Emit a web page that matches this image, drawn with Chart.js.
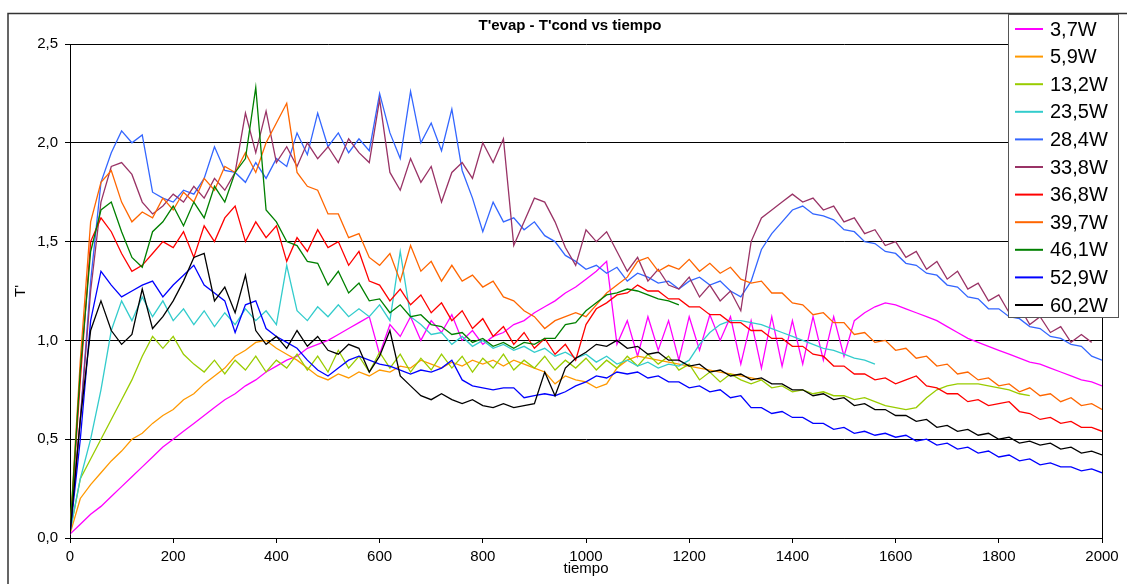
<!DOCTYPE html>
<html lang="es">
<head>
  <meta charset="UTF-8">
  <title>T'evap - T'cond vs tiempo</title>
  <script src="https://cdn.jsdelivr.net/npm/chart.js"></script>
  <style>
    html, body { margin: 0; padding: 0; background: #fff; }
    #wrap { width: 1127px; height: 584px; }
  </style>
</head>
<body>
  <div id="wrap"><canvas id="grafico" width="1127" height="584"></canvas></div>

  <script>
    // tiempo (eje x), un valor cada 20
    const tiempo = [
      0, 20, 40, 60, 80, 100, 120, 140, 160, 180,
      200, 220, 240, 260, 280, 300, 320, 340, 360, 380,
      400, 420, 440, 460, 480, 500, 520, 540, 560, 580,
      600, 620, 640, 660, 680, 700, 720, 740, 760, 780,
      800, 820, 840, 860, 880, 900, 920, 940, 960, 980,
      1000, 1020, 1040, 1060, 1080, 1100, 1120, 1140, 1160, 1180,
      1200, 1220, 1240, 1260, 1280, 1300, 1320, 1340, 1360, 1380,
      1400, 1420, 1440, 1460, 1480, 1500, 1520, 1540, 1560, 1580,
      1600, 1620, 1640, 1660, 1680, 1700, 1720, 1740, 1760, 1780,
      1800, 1820, 1840, 1860, 1880, 1900, 1920, 1940, 1960, 1980,
      2000
    ];

    const potencias = ['3,7W', '5,9W', '13,2W', '23,5W', '28,4W', '33,8W', '36,8W', '39,7W', '46,1W', '52,9W', '60,2W'];
    const colores = ['#FF00FF', '#FF9900', '#99CC00', '#33CCCC', '#3366FF', '#993366', '#FF0000', '#FF6600', '#008000', '#0000FF', '#000000'];

    const w3_7 = [
      0.02, 0.07, 0.12, 0.16, 0.21, 0.26, 0.31, 0.36, 0.41, 0.46,
      0.50, 0.54, 0.58, 0.62, 0.66, 0.70, 0.73, 0.77, 0.80, 0.84,
      0.87, 0.90, 0.92, 0.96, 0.98, 1.00, 1.03, 1.06, 1.09, 1.12,
      0.93, 1.08, 1.02, 1.12, 1.00, 1.10, 1.04, 1.13, 1.00, 1.05,
      0.98, 1.02, 1.04, 1.08, 1.10, 1.14, 1.17, 1.20, 1.24, 1.27,
      1.31, 1.35, 1.40, 0.98, 1.10, 0.92, 1.12, 0.95, 1.10, 0.90,
      1.12, 0.95, 1.13, 1.00, 1.12, 0.88, 1.10, 0.86, 1.12, 0.87,
      1.10, 0.88, 1.12, 0.90, 1.12, 0.92, 1.10, 1.14, 1.17, 1.19,
      1.18, 1.16, 1.14, 1.12, 1.10, 1.07, 1.04, 1.01, 0.99, 0.97,
      0.95, 0.93, 0.91, 0.89, 0.88, 0.86, 0.84, 0.82, 0.80, 0.79,
      0.77
    ];
    const w5_9 = [
      0.02, 0.20, 0.27, 0.33, 0.39, 0.44, 0.50, 0.53, 0.58, 0.62,
      0.65, 0.70, 0.73, 0.78, 0.82, 0.86, 0.92, 0.95, 0.99, 1.00,
      0.96, 0.93, 0.90, 0.86, 0.82, 0.80, 0.83, 0.81, 0.84, 0.82,
      0.85, 0.84, 0.87, 0.86, 0.90, 0.88, 0.86, 0.89, 0.87, 0.90,
      0.88, 0.90, 0.87, 0.90, 0.88, 0.86, 0.84, 0.78, 0.82, 0.80,
      0.79, 0.76, 0.78, 0.86, 0.90, 0.92, 0.91, 0.90, 0.89, 0.88,
      0.87, 0.86, 0.85, 0.84, 0.83, 0.82, 0.81, 0.80
    ];
    const w13_2 = [
      0.03, 0.30, 0.40, 0.50, 0.60, 0.70, 0.80, 0.92, 1.02, 0.96,
      1.02, 0.93, 0.88, 0.84, 0.90, 0.83, 0.90, 0.85, 0.92, 0.84,
      0.90, 0.86, 0.93, 0.85, 0.92, 0.84, 0.95, 0.86, 0.92, 0.84,
      0.94, 0.86, 0.93, 0.84, 0.91, 0.85, 0.93, 0.86, 0.92, 0.84,
      0.91, 0.86, 0.93, 0.85, 0.90, 0.86, 0.92, 0.85, 0.90, 0.86,
      0.91, 0.85, 0.90, 0.86, 0.92, 0.87, 0.93, 0.88, 0.92, 0.85,
      0.88, 0.80, 0.84, 0.79, 0.83, 0.80, 0.78, 0.80, 0.76, 0.77,
      0.74, 0.75, 0.73, 0.74, 0.72, 0.72, 0.70, 0.71, 0.69, 0.67,
      0.66, 0.65, 0.66, 0.71, 0.75, 0.77, 0.78, 0.78, 0.78, 0.77,
      0.76, 0.75, 0.73, 0.72
    ];
    const w23_5 = [
      0.03, 0.30, 0.50, 0.75, 1.05, 1.20, 1.10, 1.22, 1.12, 1.20,
      1.10, 1.16, 1.08, 1.15, 1.07, 1.14, 1.08, 1.16, 1.10, 1.15,
      1.08, 1.38, 1.15, 1.10, 1.17, 1.12, 1.18, 1.12, 1.16, 1.12,
      1.18, 1.10, 1.45, 1.12, 1.08, 1.03, 1.04, 0.98, 1.02, 0.97,
      1.00, 0.96, 0.98, 0.95, 0.97, 0.94, 0.96, 0.92, 0.94, 0.91,
      0.93, 0.89, 0.92, 0.88, 0.90, 0.87, 0.89, 0.86, 0.88, 0.87,
      0.90, 0.98, 1.04, 1.08, 1.10, 1.10, 1.09, 1.08, 1.06, 1.04,
      1.02, 1.00, 0.98, 0.96, 0.95, 0.93, 0.91, 0.90, 0.88
    ];
    const w28_4 = [
      0.03, 0.60, 1.30, 1.80, 1.95, 2.06, 2.00, 2.04, 1.75, 1.72,
      1.70, 1.76, 1.74, 1.82, 1.98, 1.86, 1.85, 1.80, 1.90, 1.82,
      1.92, 1.88, 2.05, 1.94, 2.15, 1.98, 2.05, 1.95, 2.02, 1.96,
      2.25, 2.05, 1.92, 2.26, 2.00, 2.10, 1.96, 2.17, 1.86, 1.72,
      1.55, 1.70, 1.60, 1.62, 1.56, 1.60, 1.53, 1.50, 1.43, 1.40,
      1.36, 1.38, 1.34, 1.37, 1.30, 1.34, 1.32, 1.29, 1.30, 1.26,
      1.30, 1.32, 1.28, 1.30, 1.25, 1.22, 1.30, 1.46, 1.54, 1.60,
      1.66, 1.68, 1.64, 1.63, 1.61, 1.56, 1.55, 1.50, 1.49, 1.45,
      1.44, 1.39, 1.38, 1.34, 1.33, 1.28, 1.27, 1.22, 1.21, 1.16,
      1.16, 1.12, 1.11, 1.07, 1.06, 1.02, 1.01, 0.98, 0.97, 0.92,
      0.90
    ];
    const w33_8 = [
      0.02, 0.60, 1.25, 1.70, 1.88, 1.90, 1.84, 1.70, 1.64, 1.68,
      1.74, 1.70, 1.78, 1.72, 1.82, 1.76, 1.85, 2.15, 1.95, 2.16,
      1.90, 1.98, 1.88, 2.00, 1.92, 1.98, 1.90, 2.02, 1.95, 1.90,
      2.22, 1.85, 1.76, 1.92, 1.80, 1.88, 1.70, 1.85, 1.90, 1.82,
      2.00, 1.90, 2.02, 1.48, 1.60, 1.72, 1.70, 1.60, 1.47, 1.38,
      1.56, 1.50, 1.55, 1.45, 1.35, 1.42, 1.30, 1.36, 1.28, 1.26,
      1.32, 1.22, 1.28, 1.20, 1.25, 1.15, 1.50, 1.62, 1.66, 1.70,
      1.74, 1.70, 1.72, 1.66, 1.68, 1.60, 1.62, 1.54, 1.56, 1.48,
      1.50, 1.42, 1.45, 1.36, 1.40, 1.31, 1.35, 1.26, 1.29, 1.20,
      1.23, 1.14, 1.17, 1.08, 1.12, 1.04, 1.07, 0.99, 1.03, 0.99
    ];
    const w36_8 = [
      0.02, 0.80, 1.50, 1.62, 1.55, 1.44, 1.35, 1.38, 1.44, 1.50,
      1.47, 1.55, 1.42, 1.58, 1.50, 1.62, 1.68, 1.50, 1.60, 1.52,
      1.58, 1.40, 1.52, 1.45, 1.56, 1.47, 1.50, 1.38, 1.45, 1.30,
      1.28, 1.20, 1.26, 1.18, 1.23, 1.14, 1.19, 1.10, 1.15, 1.06,
      1.11, 1.02, 1.07, 0.98, 1.04, 0.96, 1.01, 0.93, 0.98, 0.90,
      1.08, 1.16, 1.19, 1.23, 1.24, 1.28, 1.25, 1.25, 1.21, 1.21,
      1.17, 1.17, 1.13, 1.13, 1.09, 1.09, 1.05, 1.05, 1.01, 1.01,
      0.97, 0.97, 0.93, 0.92, 0.87, 0.87, 0.83, 0.83, 0.80, 0.81,
      0.78, 0.80, 0.82, 0.77, 0.76, 0.73, 0.73, 0.69, 0.70, 0.67,
      0.68, 0.69, 0.64, 0.63, 0.60, 0.61, 0.58, 0.59, 0.56, 0.56,
      0.54
    ];
    const w39_7 = [
      0.03, 0.90, 1.60, 1.80, 1.86, 1.70, 1.60, 1.65, 1.62, 1.72,
      1.66, 1.75, 1.70, 1.82, 1.76, 1.88, 1.85, 1.95, 1.85, 2.00,
      2.10, 2.20, 1.85, 1.78, 1.76, 1.64, 1.64, 1.52, 1.54, 1.42,
      1.38, 1.44, 1.30, 1.48, 1.35, 1.40, 1.30, 1.38, 1.30, 1.33,
      1.27, 1.30, 1.22, 1.20, 1.15, 1.12, 1.06, 1.10, 1.12, 1.14,
      1.12, 1.18, 1.24, 1.28, 1.32, 1.40, 1.42, 1.35, 1.38, 1.36,
      1.41, 1.35, 1.39, 1.34, 1.37, 1.31, 1.29, 1.30, 1.24, 1.24,
      1.19, 1.18, 1.13, 1.14, 1.09, 1.09, 1.03, 1.04, 0.99, 1.00,
      0.95, 0.96, 0.91, 0.92, 0.87, 0.88, 0.83, 0.84, 0.80, 0.81,
      0.77, 0.78, 0.74, 0.76, 0.72, 0.73, 0.69, 0.71, 0.67, 0.68,
      0.65
    ];
    const w46_1 = [
      0.03, 0.85, 1.45, 1.66, 1.70, 1.55, 1.42, 1.37, 1.55, 1.60,
      1.68, 1.58, 1.70, 1.62, 1.78, 1.70, 1.85, 1.92, 2.28, 1.66,
      1.60, 1.50, 1.48, 1.40, 1.39, 1.28, 1.35, 1.24, 1.29, 1.20,
      1.21, 1.14, 1.18, 1.12, 1.13, 1.08, 1.07, 1.03, 1.04, 0.99,
      1.01, 0.97, 0.99, 0.96, 0.99, 0.98, 1.01, 1.01, 1.08, 1.09,
      1.15, 1.19, 1.23, 1.24, 1.26, 1.25, 1.23, 1.21, 1.20, 1.18
    ];
    const w52_9 = [
      0.02, 0.50, 1.10, 1.35, 1.28, 1.22, 1.25, 1.28, 1.30, 1.22,
      1.28, 1.33, 1.38, 1.28, 1.24, 1.20, 1.04, 1.18, 1.20, 1.06,
      1.02, 0.99, 0.96, 0.90, 0.85, 0.82, 0.86, 0.90, 0.92, 0.90,
      0.88, 0.87, 0.85, 0.83, 0.85, 0.84, 0.86, 0.90, 0.80, 0.77,
      0.76, 0.75, 0.76, 0.76, 0.71, 0.72, 0.73, 0.72, 0.74, 0.77,
      0.79, 0.82, 0.81, 0.84, 0.83, 0.84, 0.81, 0.82, 0.79, 0.79,
      0.76, 0.77, 0.74, 0.75, 0.71, 0.72, 0.66, 0.66, 0.63, 0.64,
      0.61, 0.61, 0.58, 0.58, 0.55, 0.56, 0.53, 0.54, 0.52, 0.53,
      0.51, 0.52, 0.49, 0.50, 0.47, 0.48, 0.45, 0.46, 0.43, 0.44,
      0.41, 0.42, 0.39, 0.40, 0.37, 0.38, 0.36, 0.36, 0.34, 0.35,
      0.33
    ];
    const w60_2 = [
      0.02, 0.60, 1.05, 1.20, 1.05, 0.98, 1.03, 1.26, 1.06, 1.12,
      1.20, 1.30, 1.42, 1.44, 1.20, 1.27, 1.14, 1.33, 1.05, 0.98,
      1.02, 0.96, 1.05, 0.97, 1.02, 0.95, 0.93, 0.98, 0.96, 0.84,
      0.92, 1.05, 0.82, 0.77, 0.72, 0.70, 0.73, 0.70, 0.68, 0.70,
      0.67, 0.66, 0.68, 0.66, 0.67, 0.68, 0.84, 0.72, 0.86, 0.91,
      0.94, 0.98, 0.97, 1.00, 0.96, 0.97, 0.93, 0.94, 0.90, 0.90,
      0.87, 0.88, 0.84, 0.85, 0.82, 0.83, 0.80, 0.81, 0.78, 0.78,
      0.75, 0.75, 0.72, 0.73, 0.70, 0.71, 0.67, 0.68, 0.65, 0.65,
      0.62, 0.62, 0.59, 0.60, 0.56, 0.57, 0.54, 0.55, 0.52, 0.53,
      0.50, 0.51, 0.48, 0.49, 0.47, 0.48, 0.45, 0.46, 0.43, 0.44,
      0.42
    ];

    const series = [w3_7, w5_9, w13_2, w23_5, w28_4, w33_8, w36_8, w39_7, w46_1, w52_9, w60_2];
    const fuente = "'Liberation Sans', Arial, sans-serif";

    const datasets = series.map((vals, i) => ({
      label: potencias[i],
      data: vals.map((v, j) => ({ x: tiempo[j], y: v })),
      borderColor: colores[i],
      borderWidth: 1.3,
      pointRadius: 0,
      tension: 0,
      fill: false,
      order: series.length - i   // el último de la leyenda queda encima
    }));

    // marco, título, borde derecho y leyenda dibujados a mano
    const decorado = {
      id: 'decorado',
      beforeDraw(chart) {
        const ctx = chart.ctx;
        ctx.save();
        ctx.fillStyle = '#fff';
        ctx.fillRect(0, 0, chart.width, chart.height);
        ctx.restore();
      },
      beforeDatasetsDraw(chart) {
        const ctx = chart.ctx, a = chart.chartArea;
        ctx.save();
        ctx.strokeStyle = '#000';
        ctx.lineWidth = 1;
        ctx.beginPath();
        ctx.moveTo(Math.round(a.right) + 0.5, a.top);
        ctx.lineTo(Math.round(a.right) + 0.5, a.bottom);
        ctx.stroke();
        ctx.restore();
      },
      afterDraw(chart) {
        const ctx = chart.ctx;
        ctx.save();
        // marco exterior
        ctx.strokeStyle = '#333';
        ctx.lineWidth = 1.5;
        ctx.beginPath();
        ctx.moveTo(8, chart.height);
        ctx.lineTo(8, 13.5);
        ctx.lineTo(chart.width, 13.5);
        ctx.stroke();
        // título
        ctx.fillStyle = '#000';
        ctx.font = 'bold 15px ' + fuente;
        ctx.textAlign = 'center';
        ctx.textBaseline = 'middle';
        ctx.fillText("T'evap - T'cond vs tiempo", 570, 26);
        // leyenda
        const lx = 1008, ly = 14, lw = 110, lh = 303;
        ctx.fillStyle = '#fff';
        ctx.fillRect(lx, ly, lw, lh);
        ctx.strokeStyle = '#555';
        ctx.lineWidth = 1;
        ctx.strokeRect(lx + 0.5, ly + 0.5, lw, lh);
        ctx.font = '20px ' + fuente;
        ctx.textAlign = 'left';
        potencias.forEach((p, i) => {
          const y = 29 + i * 27.6;
          ctx.strokeStyle = colores[i];
          ctx.lineWidth = 2;
          ctx.beginPath();
          ctx.moveTo(1015, y);
          ctx.lineTo(1043, y);
          ctx.stroke();
          ctx.fillStyle = '#000';
          ctx.fillText(p, 1050, y + 1);
        });
        ctx.restore();
      }
    };

    new Chart(document.getElementById('grafico'), {
      type: 'line',
      data: { datasets },
      options: {
        responsive: false,
        animation: false,
        layout: { padding: { top: 44, right: 25, left: 0, bottom: 0 } },
        plugins: {
          legend: { display: false },
          tooltip: { enabled: false }
        },
        scales: {
          x: {
            type: 'linear',
            min: 0,
            max: 2000,
            ticks: {
              stepSize: 200,
              autoSkip: false,
              maxRotation: 0,
              color: '#000',
              padding: 5,
              font: { family: fuente, size: 15 },
              callback: v => String(v)
            },
            grid: { drawOnChartArea: false, drawTicks: true, tickLength: 5, color: '#000' },
            border: { color: '#000', width: 1 },
            title: {
              display: true,
              text: 'tiempo',
              color: '#000',
              font: { family: fuente, size: 15 },
              padding: { top: 0, bottom: 6 }
            },
            afterFit(s) { s.height = 46; }
          },
          y: {
            min: 0,
            max: 2.5,
            ticks: {
              stepSize: 0.5,
              color: '#000',
              padding: 7,
              font: { family: fuente, size: 15 },
              callback: v => v.toFixed(1).replace('.', ',')
            },
            grid: { color: '#000', lineWidth: 1, tickLength: 5 },
            border: { color: '#000', width: 1 },
            title: {
              display: true,
              text: "T'",
              color: '#000',
              font: { family: fuente, size: 15 },
              padding: { top: 12, bottom: 0 }
            },
            afterFit(s) { s.width = 70; }
          }
        }
      },
      plugins: [decorado]
    });
  </script>
</body>
</html>
